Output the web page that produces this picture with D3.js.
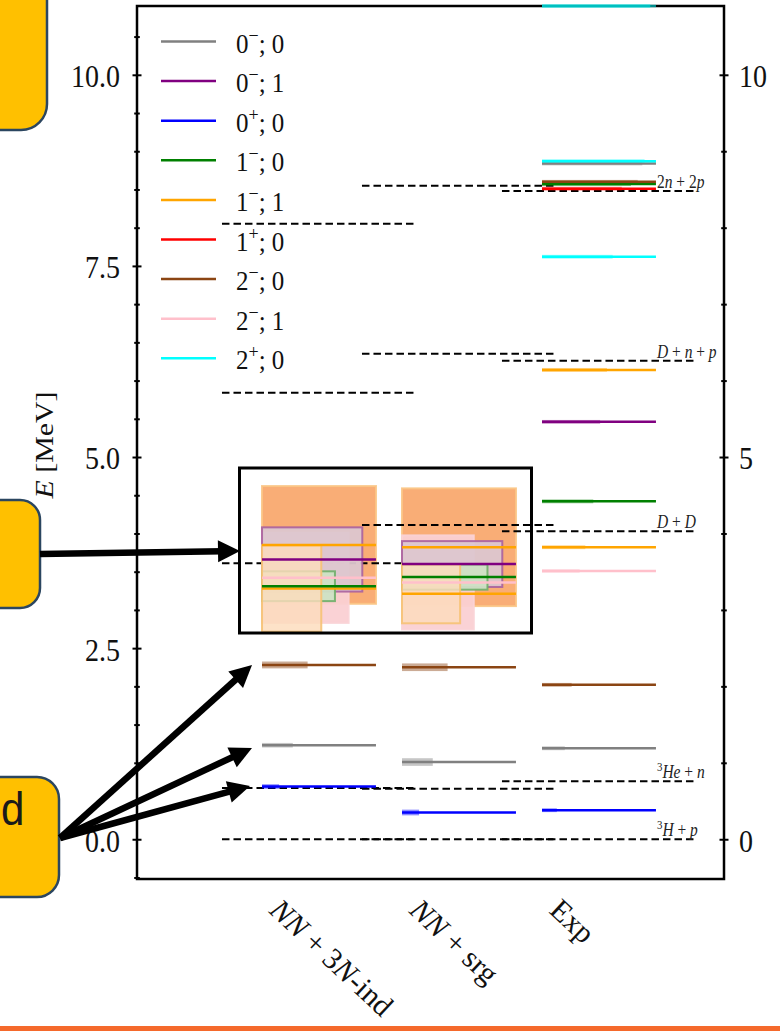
<!DOCTYPE html>
<html><head><meta charset="utf-8">
<script src="https://cdn.jsdelivr.net/npm/d3@7"></script>
<style>html,body{margin:0;padding:0;background:#fff;overflow:hidden}</style>
</head><body><svg id="c" width="780" height="1031"></svg>
<script>
// ---------------- data ----------------
const categories = ["NN + 3N-ind", "NN + srg", "Exp"];
const jpiKeys   = ["0-;0","0-;1","0+;0","1-;0","1-;1","1+;0","2-;0","2-;1","2+;0"];
const jpiColors = ["#808080","#800080","#0000ff","#008000","#ffa500","#ff0000","#8b4513","#ffc0cb","#00ffff"];
const yDomain = [-0.52, 10.9];
const leftTicks = [0, 2.5, 5, 7.5, 10];
const leftTickLabels = ["0.0", "2.5", "5.0", "7.5", "10.0"];
const leftMinor = [-0.5, 0.5, 1, 1.5, 2, 3, 3.5, 4, 4.5, 5.5, 6, 6.5, 7, 8, 8.5, 9, 9.5, 10.5];
const rightTicks = [0, 5, 10];
const rightTickLabels = ["0", "5", "10"];
const rightMinor = [1, 2, 3, 4, 6, 7, 8, 9];
// levels: [J^pi;T, E (MeV), width Gamma (MeV), width-bar fraction]
const levels3N = [
  ["1-;1", 3.85, 1.54, 1.00],
  ["2-;1", 3.42, 1.18, 0.76],
  ["0-;1", 3.66, 0.84, 0.88],
  ["1-;0", 3.31, 0.39, 0.64],
  ["1-;1", 3.28, 1.13, 0.52],
  ["0+;0", 0.69, 0.06, 0.15],
  ["0-;0", 1.23, 0.06, 0.27],
  ["2-;0", 2.28, 0.09, 0.40]
];
const levelsSrg = [
  ["1-;1", 3.82, 1.54, 1.00],
  ["2-;1", 3.36, 1.23, 0.63],
  ["0-;1", 3.60, 0.60, 0.88],
  ["1-;0", 3.43, 0.33, 0.75],
  ["1-;1", 3.21, 0.77, 0.51],
  ["0+;0", 0.35, 0.075, 0.15],
  ["0-;0", 1.01, 0.10, 0.27],
  ["2-;0", 2.25, 0.10, 0.40]
];
const levelsExp = [
  ["0+;0", 0.38, 0.05, 0.13],
  ["0-;0", 1.19, 0.05, 0.20],
  ["2-;0", 2.02, 0.05, 0.26],
  ["2-;1", 3.51, 0.05, 0.33],
  ["1-;1", 3.82, 0.05, 0.38],
  ["1-;0", 4.42, 0.05, 0.45],
  ["0-;1", 5.46, 0.05, 0.51],
  ["1-;1", 6.14, 0.05, 0.57],
  ["2+;0", 7.62, 0.05, 0.62],
  ["0-;0", 8.84, 0.05, 0.88],
  ["2+;0", 8.87, 0.05, 0.90],
  ["1+;0", 8.51, 0.05, 0.70],
  ["1-;0", 8.57, 0.05, 0.78],
  ["2-;0", 8.60, 0.05, 0.84],
  ["2+;0", 10.9, 0.05, 0.95]
];
const thresholds3N  = [0, 0.67, 3.61, 5.84, 8.05];
const thresholdsSrg = [0, 0.66, 4.11, 6.35, 8.55];
const thresholdsExp = [0, 0.76, 4.03, 6.26, 8.48];
const thresholdLabelsExp = ["³H + p", "³He + n", "D + D", "D + n + p", "2n + 2p"];

// --------------- styles ---------------
const wideBoxFill   = {"1-;1": ["#f9a96f", "#fcdcbc"], "0-;1": ["#dcc6cf"], "2-;1": ["#fad0d3"], "1-;0": ["#cde2c4"]};
const wideBoxStroke = {"1-;1": ["#fbc585", "#f6c274"], "0-;1": ["#aa609e"], "2-;1": ["#fad3d6"], "1-;0": ["#6fae69"]};
const FONT = "'Liberation Serif','Times New Roman',serif";
const SANS = "'Liberation Sans',Arial,sans-serif";

const svg = d3.select("#c");
const x = d3.scaleLinear().domain([-1.3, 2.893]).range([137, 724]);
const y = d3.scaleLinear().domain(yDomain).range([879, 6]);
const color = d3.scaleOrdinal().domain(jpiKeys).range(jpiColors);
const halfLevel = 0.407, halfThr = 0.693;

function richText(g, str, fs, italicTest) {
  const t = g.append("text").attr("font-family", FONT).attr("font-size", fs).attr("fill", "#111");
  const runs = [];
  for (const ch of str) {
    const st = (ch === "³") ? "s" : (italicTest(ch) ? "i" : "n");
    const c = ch === "³" ? "3" : ch;
    if (runs.length && runs[runs.length-1].st === st) runs[runs.length-1].s += c;
    else runs.push({st, s: c});
  }
  let raised = false;
  runs.forEach(r => {
    const ts = t.append("tspan").text(r.s);
    if (r.st === "i") ts.attr("font-style", "italic");
    if (r.st === "s") { ts.attr("font-size", fs*0.7).attr("dy", -fs*0.38); raised = true; }
    else if (raised) { ts.attr("dy", fs*0.38); raised = false; }
  });
  return t;
}

// --------------- frame ---------------
const plot = svg.append("g");
plot.append("rect").attr("x", x.range()[0]).attr("y", y.range()[1])
  .attr("width", x.range()[1]-x.range()[0]).attr("height", y.range()[0]-y.range()[1])
  .attr("fill", "none").attr("stroke", "#000").attr("stroke-width", 2.5);

function styleAxis(g, len) {
  g.select(".domain").remove();
  g.selectAll(".tick line").attr("x1", -len).attr("x2", len).attr("stroke", "#000").attr("stroke-width", 2);
}
const axL = plot.append("g").attr("transform", `translate(${x.range()[0]},0)`)
  .call(d3.axisLeft(y).tickValues(leftTicks).tickFormat((d,i)=>leftTickLabels[i]));
styleAxis(axL, 4.5);
axL.selectAll(".tick text").attr("x", -17).attr("dy", "0.37em").attr("font-family", FONT)
  .attr("font-size", 28).attr("fill", "#111").attr("transform", "scale(1,1.15)");
const axLm = plot.append("g").attr("transform", `translate(${x.range()[0]},0)`)
  .call(d3.axisLeft(y).tickValues(leftMinor).tickFormat(""));
styleAxis(axLm, 2.8);
const axR = plot.append("g").attr("transform", `translate(${x.range()[1]},0)`)
  .call(d3.axisRight(y).tickValues(rightTicks).tickFormat((d,i)=>rightTickLabels[i]));
styleAxis(axR, 4.5);
axR.selectAll(".tick text").attr("x", 15).attr("dy", "0.37em").attr("font-family", FONT)
  .attr("font-size", 28).attr("fill", "#111").attr("transform", "scale(1,1.15)");
const axRm = plot.append("g").attr("transform", `translate(${x.range()[1]},0)`)
  .call(d3.axisRight(y).tickValues(rightMinor).tickFormat(""));
styleAxis(axRm, 2.8);

// y label
const yl = svg.append("g").attr("transform", "translate(53,445) scale(1,1.15) rotate(-90)");
const ylt = yl.append("text").attr("text-anchor", "middle").attr("font-family", FONT).attr("font-size", 26).attr("fill", "#111");
ylt.append("tspan").attr("font-style", "italic").text("E");
ylt.append("tspan").text(" [MeV]");

// x labels
categories.forEach((c, i) => {
  const g = svg.append("g").attr("transform", `translate(${x(i)-51},912) rotate(43)`);
  richText(g, c, 30, ch => ch === "N");
});

// --------------- levels ---------------
const columns = [levels3N, levelsSrg, levelsExp];
const thresholds = [thresholds3N, thresholdsSrg, thresholdsExp];
const layerBig = plot.append("g"), layerThr = plot.append("g"), layerBox = plot.append("g"), layerLine = plot.append("g");

columns.forEach((lv, ci) => {
  const seen = {};
  lv.forEach(([k, E, G, w]) => {
    const x0 = x(ci - halfLevel), x1 = x(ci - halfLevel + 2*halfLevel*w);
    const wide = G > 0.2;
    const layer = G >= 1.4 ? layerBig : layerBox;
    const r = layer.append("rect").attr("x", x0).attr("width", x1 - x0)
      .attr("y", y(E + G/2)).attr("height", y(E - G/2) - y(E + G/2));
    if (wide) {
      const n = seen[k] = (seen[k] || 0); seen[k]++;
      r.attr("fill", wideBoxFill[k][n]).attr("fill-opacity", n ? 0.82 : 0.95)
       .attr("stroke", wideBoxStroke[k][n]).attr("stroke-width", 2).attr("stroke-opacity", 0.9);
    } else {
      r.attr("fill", color(k)).attr("fill-opacity", 0.45);
    }
  });
  const order = lv.map((d, i) => i).sort((a, b) => lv[b][2] - lv[a][2]);
  order.forEach(i => {
    const [k, E] = lv[i];
    layerLine.append("line").attr("x1", x(ci - halfLevel)).attr("x2", x(ci + halfLevel))
      .attr("y1", y(E)).attr("y2", y(E)).attr("stroke", color(k)).attr("stroke-width", 2.5)
      .attr("stroke-opacity", E >= yDomain[1] - 1e-6 ? 0.55 : 1);
  });
  thresholds[ci].forEach(E => {
    layerThr.append("line").attr("x1", x(ci - halfThr)).attr("x2", x(ci + halfThr))
      .attr("y1", y(E)).attr("y2", y(E)).attr("stroke", "#000").attr("stroke-width", 2)
      .attr("stroke-dasharray", "7.5,4");
  });
});
thresholdsExp.forEach((E, i) => {
  const g = plot.append("g").attr("transform", `translate(${x(2 + halfLevel) + 1},${y(E) - 3}) scale(1,1.15)`);
  richText(g, thresholdLabelsExp[i], 15.5, ch => /[A-Za-z]/.test(ch)).attr("fill", "#222");
});

// --------------- legend ---------------
jpiKeys.forEach((k, i) => {
  const yy = 41.5 + i * 39.6;
  plot.append("line").attr("x1", 161).attr("x2", 216).attr("y1", yy).attr("y2", yy)
    .attr("stroke", jpiColors[i]).attr("stroke-width", 2.5);
  const g = plot.append("g").attr("transform", `translate(236,${yy + 11}) scale(1,1.1)`);
  const t = g.append("text").attr("font-family", FONT).attr("font-size", 25).attr("fill", "#111");
  t.append("tspan").text(k[0]);
  t.append("tspan").attr("font-size", 18).attr("dy", -10).text(k[1] === "-" ? "−" : "+");
  t.append("tspan").attr("dy", 10).text("; " + k.split(";")[1]);
});

// --------------- annotations ---------------
svg.append("rect").attr("x", 239.5).attr("y", 468).attr("width", 292).attr("height", 165)
  .attr("fill", "none").attr("stroke", "#000").attr("stroke-width", 3);

const boxes = [[-40, -40, 87, 170, 26], [-40, 500, 80, 108, 20], [-40, 777, 99, 120, 22]];
boxes.forEach(([bx, by, bw, bh, rr]) => {
  svg.append("rect").attr("x", bx).attr("y", by).attr("width", bw).attr("height", bh).attr("rx", rr)
    .attr("fill", "#ffc000").attr("stroke", "#2b4660").attr("stroke-width", 2.5);
});
svg.append("g").attr("transform", "translate(1,825) scale(1,1.12)")
  .append("text").attr("text-anchor", "start").attr("font-family", SANS).attr("font-size", 42)
  .attr("fill", "#1a1a1a").text("d");

function arrow(x0, y0, x1, y1) {
  const dx = x1 - x0, dy = y1 - y0, L = Math.hypot(dx, dy);
  const ux = dx / L, uy = dy / L, nx = -uy, ny = ux;
  const hl = 22, hw = 11;
  svg.append("line").attr("x1", x0).attr("y1", y0).attr("x2", x1 - ux*hl*0.8).attr("y2", y1 - uy*hl*0.8)
    .attr("stroke", "#000").attr("stroke-width", 6.5);
  const bx = x1 - ux*hl, by = y1 - uy*hl;
  svg.append("path").attr("d", `M${x1},${y1}L${bx + nx*hw},${by + ny*hw}L${bx - nx*hw},${by - ny*hw}Z`).attr("fill", "#000");
}
arrow(40, 554, 240, 551);
arrow(60, 838, 252, 665);
arrow(60, 838, 252, 748);
arrow(60, 838, 250, 786);

svg.append("rect").attr("x", 0).attr("y", 1026).attr("width", 780).attr("height", 5).attr("fill", "#f5692b");
</script></body></html>
